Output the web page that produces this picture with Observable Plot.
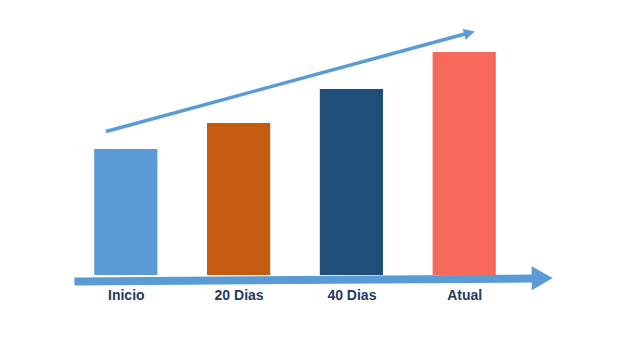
<!DOCTYPE html>
<html><head><meta charset="utf-8">
<script src="https://cdn.jsdelivr.net/npm/d3@7"></script>
<script src="https://cdn.jsdelivr.net/npm/@observablehq/plot@0.6"></script>
<style>html,body{margin:0;padding:0;background:#fff;overflow:hidden;}</style>
</head><body><div id="chart"></div>
<script>
// Data
const categories = ["Inicio", "20 Dias", "40 Dias", "Atual"];
const values = [126, 152, 186, 223];
// Annotation arrows, in data units (x: category index, y: value units)
const baseArrowX = [-0.46, 3.60, 3.78];   // start, shaft end, tip
const baseArrowY = [-6, -3, -2.5];
const trendArrowX = [-0.18, 3.0, 3.09];
const trendArrowY = [144, 241.5, 244];

// Styles
const barColors = ["#5B9BD5", "#C55A11", "#1F4E79", "#F7695A"];
const arrowColor = "#5B9BD5";
const labelColor = "#1F3864";
const halfWidth = 0.28;

const bars = categories.map((c, i) => ({category: c, index: i, value: values[i]}));
const baseArrow = [{x1: baseArrowX[0], y1: baseArrowY[0], x2: baseArrowX[1], y2: baseArrowY[1], xt: baseArrowX[2], yt: baseArrowY[2]}];
const trendArrow = [{x1: trendArrowX[0], y1: trendArrowY[0], x2: trendArrowX[1], y2: trendArrowY[1], xt: trendArrowX[2], yt: trendArrowY[2]}];

function head(len, half) {
  return {draw(ctx) { ctx.moveTo(0, 0); ctx.lineTo(-half, len); ctx.lineTo(half, len); ctx.closePath(); }};
}

const chart = Plot.plot({
  width: 640, height: 360,
  marginLeft: 13, marginRight: 6.6, marginTop: 0, marginBottom: 85,
  x: {domain: [-1, 4.5]},
  y: {domain: [0, 275], axis: null},
  color: {domain: categories, range: barColors},
  style: {fontFamily: "'Liberation Sans', Arial, sans-serif", background: "#fff"},
  marks: [
    Plot.rect(bars, {x1: d => d.index - halfWidth, x2: d => d.index + halfWidth, y1: 0, y2: "value", fill: "category"}),
    Plot.link(baseArrow, {x1: "x1", y1: "y1", x2: "x2", y2: "y2", stroke: arrowColor, strokeWidth: 8}),
    Plot.dot(baseArrow, {x: "xt", y: "yt", symbol: head(21, 12), r: 5, fill: arrowColor, stroke: "none", rotate: 89.5}),
    Plot.link(trendArrow, {x1: "x1", y1: "y1", x2: "x2", y2: "y2", stroke: arrowColor, strokeWidth: 3.5}),
    Plot.dot(trendArrow, {x: "xt", y: "yt", symbol: head(11, 5.5), r: 5, fill: arrowColor, stroke: "none", rotate: 74.8}),
    Plot.axisX({ticks: categories.map((_, i) => i), tickFormat: i => categories[i], tickSize: 0, tickPadding: 15,
      fontSize: 14, fontWeight: "bold", color: labelColor, label: null})
  ]
});
document.getElementById("chart").appendChild(chart);
</script>
</body></html>
